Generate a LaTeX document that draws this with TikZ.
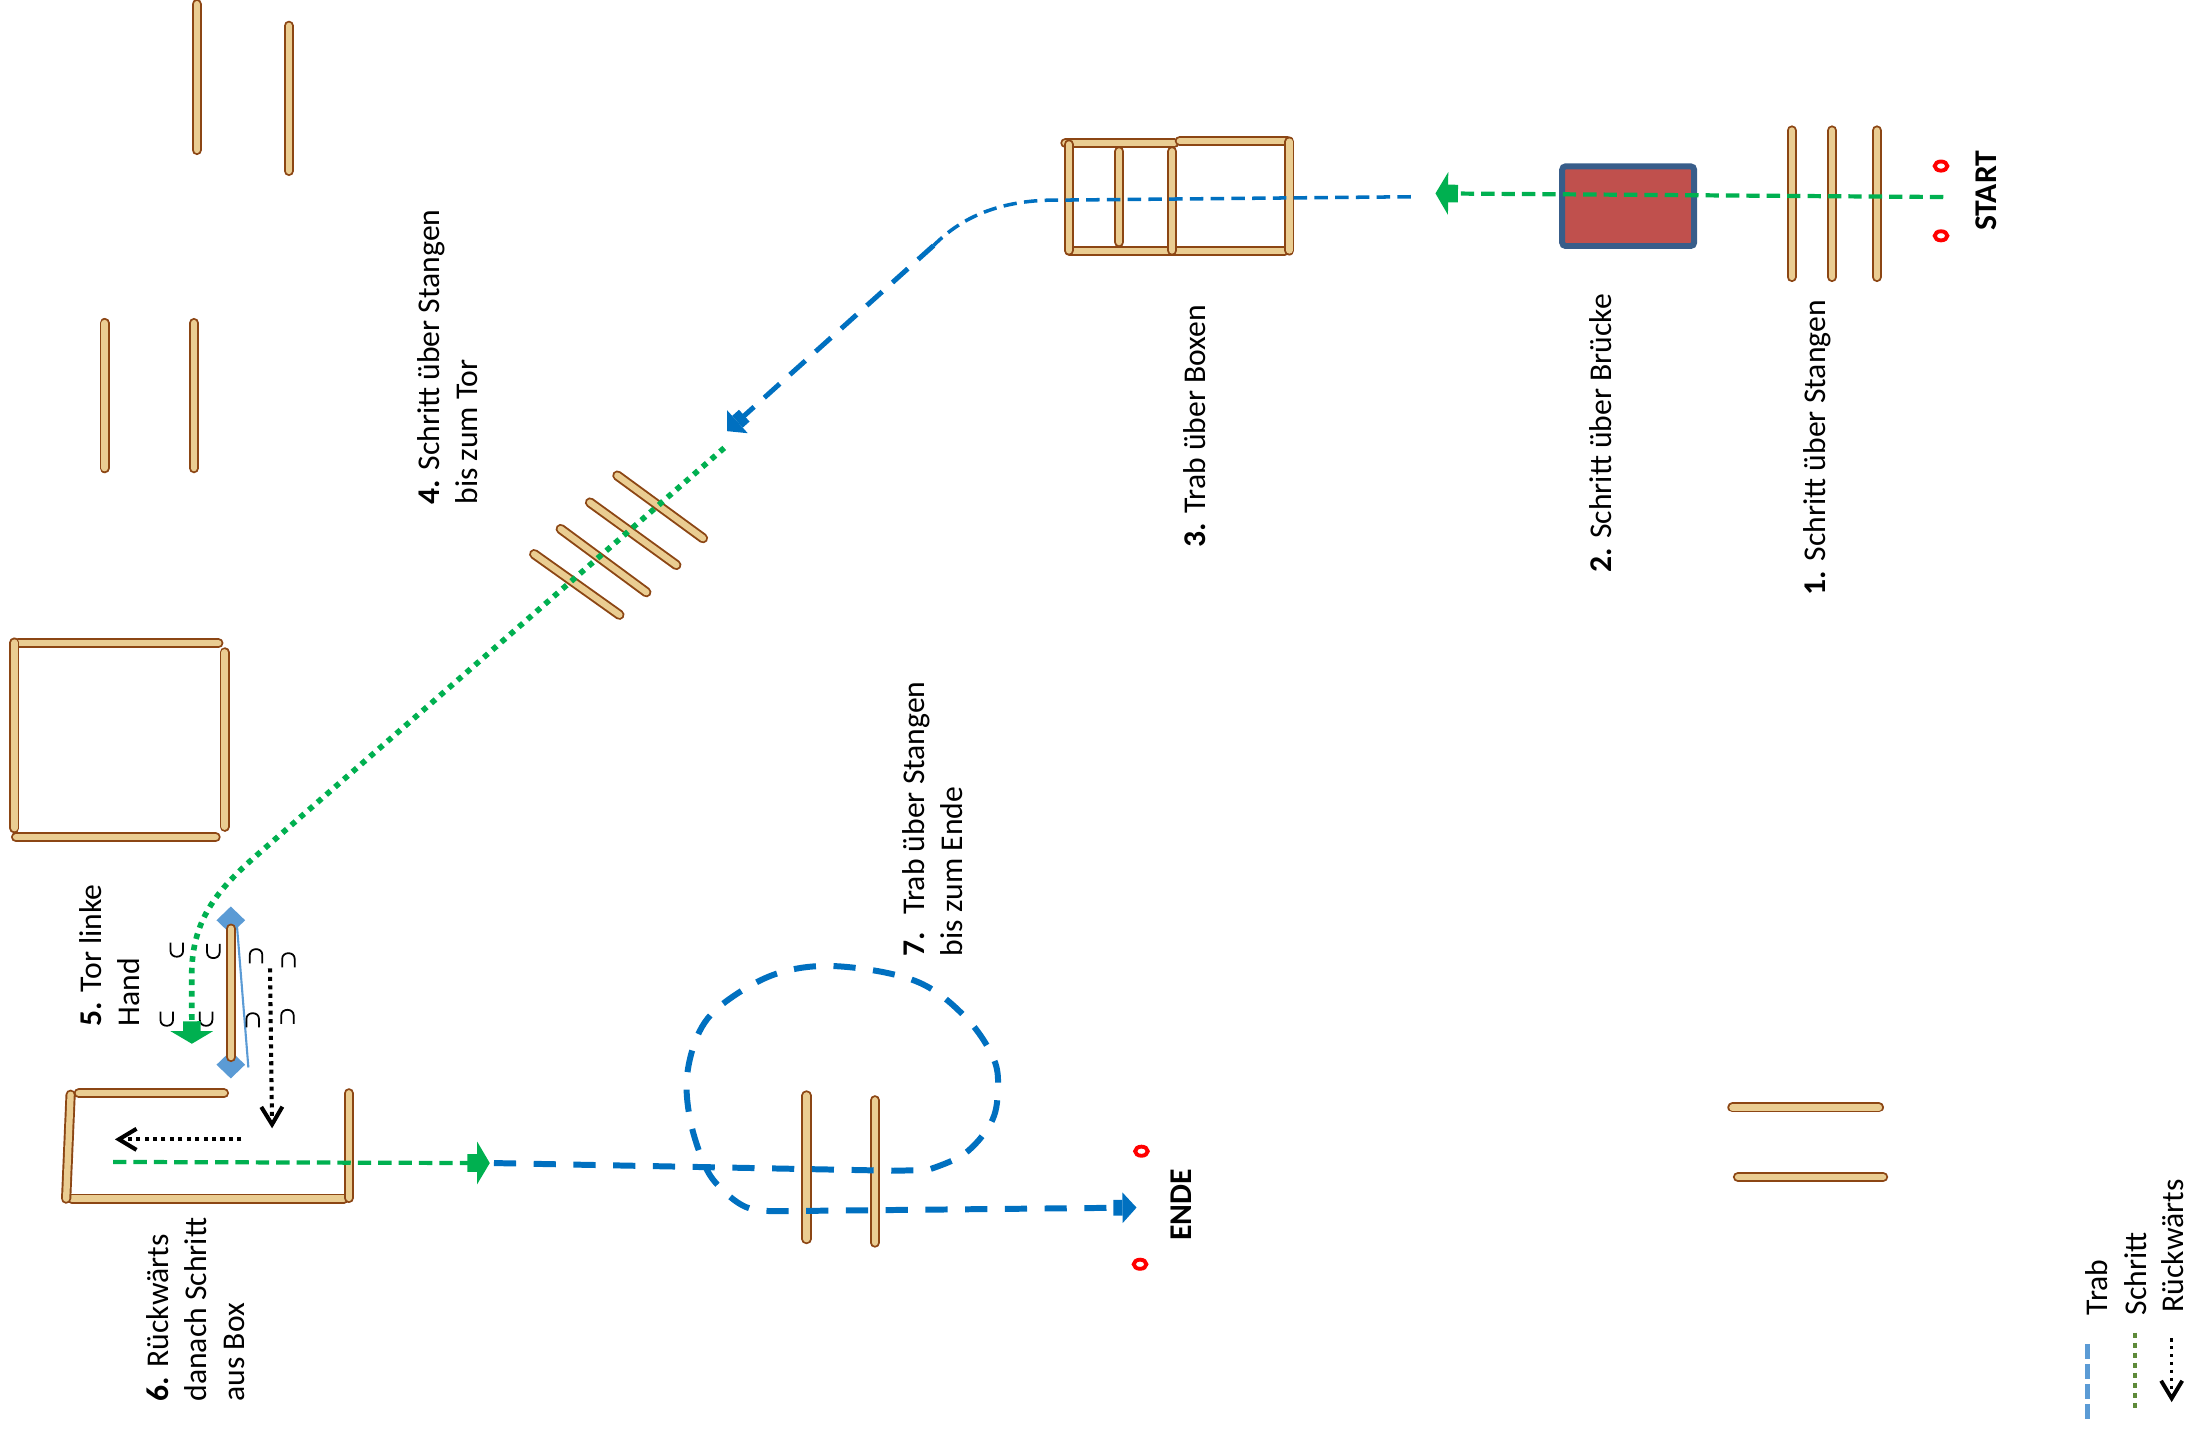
\documentclass[tikz,border=0pt]{standalone}
\usepackage{fontspec}
\setmainfont{Carlito}
\usepackage{tikz}
\usetikzlibrary{arrows.meta, shapes.geometric, positioning}

\definecolor{holz}{RGB}{234,205,146}
\definecolor{holzrand}{RGB}{140,70,20}
\definecolor{schrittgruen}{RGB}{0,176,80}
\definecolor{trabblau}{RGB}{0,112,192}
\definecolor{hellblau}{RGB}{91,155,213}
\definecolor{olivgruen}{RGB}{94,138,58}
\definecolor{brueckerot}{RGB}{192,80,77}
\definecolor{brueckeblau}{RGB}{56,93,138}

\tikzset{
    stange/.style={draw=holzrand, line width=0.55pt, double=holz, double distance=1.8pt, line cap=round},
    schritt/.style={draw=schrittgruen, line width=1.2pt, dash pattern=on 3.8pt off 2pt},
    schrittpunkt/.style={draw=schrittgruen, line width=1.6pt, dash pattern=on 1.6pt off 1.7pt},
    trab/.style={draw=trabblau, line width=1pt, dash pattern=on 3.8pt off 2.1pt},
    trabdick/.style={draw=trabblau, line width=1.4pt, dash pattern=on 5.9pt off 3.9pt},
    trabschleife/.style={draw=trabblau, line width=1.7pt, dash pattern=on 6.3pt off 5pt},
    rueck/.style={draw=black, line width=1.15pt, dash pattern=on 1.15pt off 1.25pt},
    gruenpfeil/.style={-{Rectangle[length=2.8pt,width=5pt]Triangle[length=3.6pt,width=12pt]}},
    blaupfeil/.style={-{Rectangle[length=2.6pt,width=4.5pt]Triangle[length=4pt,width=8.5pt]}},
    rueckpfeil/.style={-{Straight Barb[length=5pt,width=6pt]}},
    oval/.style={draw=red, line width=1.1pt},
    torpfosten/.style={diamond, fill=hellblau, inner sep=0pt, minimum width=8.3pt, minimum height=8pt},
    beschriftung/.style={rotate=90, anchor=base west, inner sep=0pt, align=left, font=\fontsize{9}{10.9}\selectfont},
    hufU/.pic={\draw[line width=0.5pt] (-4.5,-5) -- (-4.5,1) .. controls (-4.5,6.5) and (4.5,6.5) .. (4.5,1) -- (4.5,-5);},
    hufN/.pic={\draw[line width=0.5pt] (-4.5,5) -- (-4.5,-1) .. controls (-4.5,-6.5) and (4.5,-6.5) .. (4.5,-1) -- (4.5,5);},
}

\begin{document}
\begin{tikzpicture}[x=0.013954cm, y=-0.013954cm]
    %輸出區塊
    \useasboundingbox (0,0) rectangle (1568,1023.7);

    %木桿
    \foreach \xa/\ya/\xb/\yb in
    {141/3/141/107.5, 207/18.5/207/122.5, 75/231.5/75/335.5, 139/231.5/139/335.5,
     1284/93.5/1284/198.5, 1313/93.5/1313/198.5, 1345/93.5/1345/198.5,
     763.5/102.5/841.5/102.5, 845.5/101/922.5/101, 766.5/180/920.5/180,
     766/103.5/766/179.5, 802/108.5/802/173.5, 840/108.5/840/179.5, 924/101.5/924/179.5,
     442.4/340.8/503.8/385.7, 422.8/360.1/484.7/404.9, 401.8/379.1/463.2/424.4, 382.8/397.1/443.9/440.6,
     13/461/156.5/461, 11.5/600/154.5/600, 10.3/460.5/10.3/593.5, 161/467.5/161/592.5,
     56.5/783.5/160.5/783.5, 51.5/859/246.5/859, 50.6/784.5/47.4/859, 250/783.5/250/858.5,
     578/785/578/888, 627/788.5/627/890.5,
     1241.5/793.6/1346.5/793.6, 1245.5/843.5/1349.5/843.5}
    {
        \draw[stange] (\xa,\ya) -- (\xb,\yb);
    };

    %Brücke
    \draw[draw=brueckeblau, fill=brueckerot, line width=1.7pt, rounded corners=1pt] (1119.5,119.2) rectangle (1214.1,176.3);

    %Tor
    \node[torpfosten] (torOben) at (165.4,659.5) {};
    \node[torpfosten] (torUnten) at (165.4,763) {};
    \draw[hellblau, line width=0.6pt] ([shift={(4.5,5)}]torOben.center) -- ([shift={(12.6,2)}]torUnten.center);
    \draw[stange] (165.6,665.5) -- (165.6,757.5);
    \foreach \hx/\hy in {126.7/680.5, 152.9/681.5, 119.5/730, 147.7/730}
        \pic at (\hx,\hy) {hufU};
    \foreach \hx/\hy in {183.5/685.3, 206.7/688.2, 181.1/731.2, 206/728.8}
        \pic at (\hx,\hy) {hufN};

    %Kegel
    \foreach \ox/\oy in {1391/119, 1391/169, 818/825, 817/906}
        \draw[oval] (\ox,\oy) ellipse [x radius=1.8pt, y radius=1.3pt];

    %路線
    \coordinate (startA) at (1392.6,141.2);
    \coordinate (brueckeZiel) at (1028.7,138.6);
    \coordinate (trabA) at (1011,141);
    \coordinate (trabB) at (669,176);
    \coordinate (trabC) at (521,309);
    \coordinate (torStart) at (519,321);
    \coordinate (torZiel) at (137.5,748);
    \coordinate (rueckA) at (193.5,694);
    \coordinate (rueckB) at (195,808.6);
    \coordinate (rueckC) at (173,816.5);
    \coordinate (rueckD) at (82.4,816.5);
    \coordinate (boxA) at (81,832.7);
    \coordinate (boxB) at (351,833.5);
    \coordinate (schleifeA) at (354,833.5);
    \coordinate (ende) at (814.5,865.4);

    \draw[schritt, gruenpfeil] (startA) -- (brueckeZiel);
    \draw[trab] (trabA) -- (750,143.5) .. controls (705,145) and (682,163) .. (trabB);
    \draw[trabdick, blaupfeil] (trabB) -- (trabC);
    \draw[schrittpunkt, gruenpfeil] (torStart) -- (185,612) .. controls (155,638) and (137,660) .. (137.4,700) -- (torZiel);
    \draw[rueck, rueckpfeil] (rueckA) -- (rueckB);
    \draw[rueck, rueckpfeil] (rueckC) -- (rueckD);
    \draw[schritt, gruenpfeil] (boxA) -- (boxB);
    \draw[trabschleife, blaupfeil] (schleifeA) -- (640,839) -- plot[smooth, tension=0.6] coordinates
        {(664.5,838.5) (691,827) (710,805) (715,783) (712,758.5) (691,728) (656,703) (601,692.5)
         (559,697) (524,715) (503,736) (492.6,769) (494.5,802) (505,835) (517,852) (534.5,865) (553.6,868)}
        -- (ende);

    %Beschriftung
    \node[beschriftung, font=\fontsize{9}{10.9}\selectfont\bfseries] (start) at (1431,166) {START};
    \node[beschriftung, font=\fontsize{9}{10.9}\selectfont\bfseries] (endeText) at (854,889.6) {ENDE};
    \node[beschriftung] (lbl1) at (1308,427) {\textbf{1.} Schritt über Stangen};
    \node[beschriftung] (lbl2) at (1155,411) {\textbf{2.} Schritt über Brücke};
    \node[beschriftung] (lbl3) at (864,393) {\textbf{3.} Trab über Boxen};
    \node[beschriftung] (lbl4) at (342.4,362) {\textbf{4.} Schritt über Stangen\\bis zum Tor};
    \node[beschriftung] (lbl5) at (100,736) {\textbf{5.} Tor linke\\Hand};
    \node[beschriftung] (lbl6) at (175.5,1004.8) {\textbf{6.} Rückwärts\\danach Schritt\\aus Box};
    \node[beschriftung] (lbl7) at (690,685.7) {\textbf{7.}~ Trab über Stangen\\bis zum Ende};

    %Legende
    \draw[hellblau, line width=1.6pt, dash pattern=on 4.3pt off 1.4pt] (1496,963) -- (1496,1018);
    \draw[olivgruen, line width=1.4pt, dash pattern=on 1.4pt off 1.45pt] (1530,955) -- (1530,1011);
    \draw[black, line width=0.95pt, dash pattern=on 0.95pt off 1.3pt, -{Straight Barb[length=5pt,width=6pt,line width=1.1pt]}] (1556.3,959) -- (1556.3,1004.8);
    \node[beschriftung] (legTrab) at (1510,943) {Trab};
    \node[beschriftung] (legSchritt) at (1538,943) {Schritt};
    \node[beschriftung] (legRueck) at (1565,941) {Rückwärts};
\end{tikzpicture}
\end{document}
